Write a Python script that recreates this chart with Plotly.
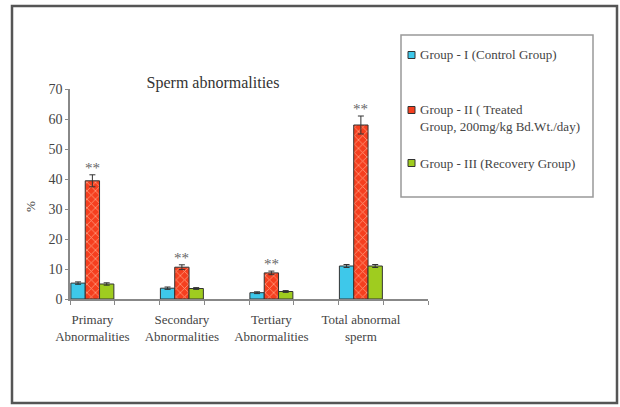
import plotly.graph_objects as go

categories = ["Primary<br>Abnormalities", "Secondary<br>Abnormalities",
              "Tertiary<br>Abnormalities", "Total abnormal<br>sperm"]
series_names = ["Group - I (Control Group)",
                "Group - II ( Treated<br>Group, 200mg/kg Bd.Wt./day)",
                "Group - III (Recovery Group)"]
control = [5.3, 3.6, 2.1, 11.0]
treated = [39.4, 10.6, 8.7, 58.0]
recovery = [5.0, 3.5, 2.5, 11.0]
control_err = [0.4, 0.4, 0.3, 0.5]
treated_err = [2.0, 0.8, 0.6, 3.0]
recovery_err = [0.4, 0.3, 0.3, 0.5]
significance = ["**", "**", "**", "**"]
y_ticks = [0, 10, 20, 30, 40, 50, 60, 70]

W, H = 620, 407
L, R, T, B = 70, 428, 89, 299
X0, X1 = -0.25, 3.75
Y0, Y1 = 0, 70

def px(x):
    return (x - L) / (R - L)

def py(y):
    return (B - y) / (B - T)

colors = ["#3ec8ea", "#f53f1f", "#9fcc1f"]
edge = "#333333"
serif = "Liberation Serif, Times New Roman, serif"
txt = "#444444"

xs = list(range(len(categories)))
fig = go.Figure()
fig.add_trace(go.Bar(x=xs, y=control, name=series_names[0],
                     marker=dict(color=colors[0], line=dict(color=edge, width=1)),
                     error_y=dict(type="data", array=control_err, color=edge, thickness=1, width=3)))
fig.add_trace(go.Bar(x=xs, y=treated, name=series_names[1],
                     marker=dict(color=colors[1], line=dict(color=edge, width=1),
                                 pattern=dict(shape="x", fgcolor="#ff9a7a", bgcolor=colors[1],
                                              size=6, solidity=0.25, fillmode="replace")),
                     error_y=dict(type="data", array=treated_err, color=edge, thickness=1, width=3)))
fig.add_trace(go.Bar(x=xs, y=recovery, name=series_names[2],
                     marker=dict(color=colors[2], line=dict(color=edge, width=1)),
                     error_y=dict(type="data", array=recovery_err, color=edge, thickness=1, width=3)))

annotations = []
for i, s in enumerate(significance):
    annotations.append(dict(x=xs[i], y=treated[i] + treated_err[i], xref="x", yref="y",
                            text=s, showarrow=False, xanchor="center", yanchor="bottom", yshift=-3,
                            font=dict(family=serif, size=15, color="#666666")))

# y-axis title
annotations.append(dict(x=px(30), y=py(207), xref="paper", yref="paper", text="%",
                        textangle=-90, showarrow=False, xanchor="center", yanchor="middle",
                        font=dict(family=serif, size=13, color=txt)))

# manual legend + outer frame
shapes = []
shapes.append(dict(type="rect", xref="paper", yref="paper",
                   x0=px(12), x1=px(617), y0=py(403), y1=py(6),
                   line=dict(color="#555555", width=2.5), fillcolor="rgba(0,0,0,0)", layer="below"))
shapes.append(dict(type="rect", xref="paper", yref="paper",
                   x0=px(401), x1=px(593), y0=py(197), y1=py(35),
                   line=dict(color="#999999", width=1.5), fillcolor="rgba(0,0,0,0)"))
legend_y = [55, 118, 163]
marker_y = [55, 110, 163]
for name, c, ly, my in zip(series_names, colors, legend_y, marker_y):
    shapes.append(dict(type="rect", xref="paper", yref="paper",
                       x0=px(408), x1=px(415), y0=py(my + 3.5), y1=py(my - 3.5),
                       line=dict(color=edge, width=1), fillcolor=c))
    annotations.append(dict(x=px(418), y=py(ly), xref="paper", yref="paper", text=name,
                            showarrow=False, xanchor="left", yanchor="middle", align="left",
                            font=dict(family=serif, size=13, color=txt)))

fig.update_layout(
    width=W, height=H,
    margin=dict(l=L, r=W - R, t=T, b=H - B, pad=0),
    paper_bgcolor="white", plot_bgcolor="white",
    barmode="group", bargap=0.52, bargroupgap=0,
    showlegend=False,
    title=dict(text="Sperm abnormalities", xref="paper", x=px(213), xanchor="center",
               yref="container", y=1 - 82 / H, yanchor="middle",
               font=dict(family=serif, size=16, color="#333333")),
    xaxis=dict(range=[X0, X1], tickmode="array", tickvals=xs, ticktext=categories,
               ticks="", showgrid=False, zeroline=False, showline=True,
               linecolor="#888888", linewidth=1.5,
               tickfont=dict(family=serif, size=13, color=txt),
               ticklabelstandoff=8,
               minor=dict(tickmode="array",
                          tickvals=[X0 + 0.5 * k for k in range(9)],
                          ticks="outside", ticklen=4, tickcolor="#888888", tickwidth=1)),
    yaxis=dict(range=[Y0, Y1], tickmode="array", tickvals=y_ticks,
               ticks="outside", ticklen=3, tickcolor="#888888",
               showgrid=False, zeroline=False, showline=True,
               linecolor="#888888", linewidth=1.5,
               tickfont=dict(family=serif, size=14, color=txt)),
    shapes=shapes, annotations=annotations,
)

fig.write_html("out.html", config={"displayModeBar": False},
               post_script="document.body.style.margin='0';document.body.style.overflow='hidden';")
